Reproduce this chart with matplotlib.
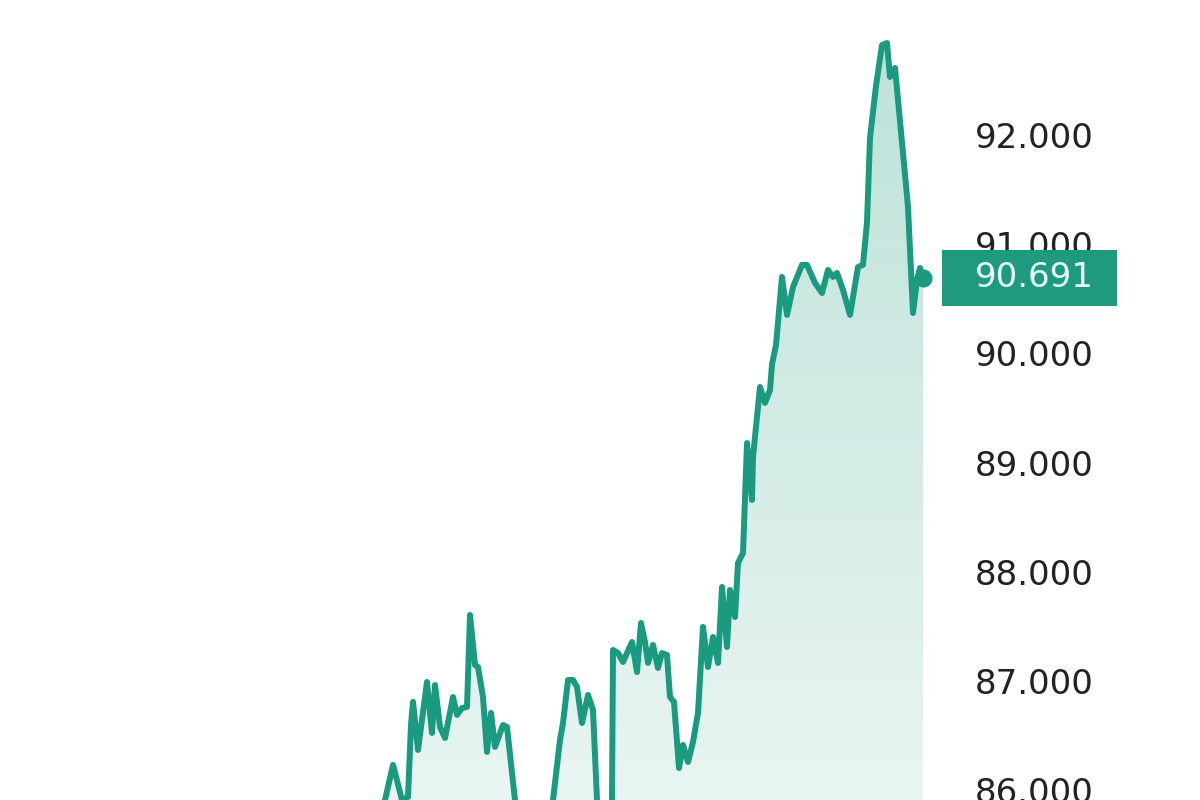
import matplotlib
matplotlib.use("Agg")
import matplotlib.pyplot as plt
import numpy as np
from matplotlib.colors import LinearSegmentedColormap
from matplotlib.patches import Rectangle
from matplotlib.transforms import blended_transform_factory

# price series (time index, value)
t = [375, 385, 393, 402, 408, 411, 413, 418, 427, 432, 435, 440, 445, 453, 457,
     462, 467, 470, 475, 478, 483, 487, 491, 495, 503, 507, 515, 525, 545, 553,
     560, 563, 568, 573, 577, 582, 588, 593, 597, 602, 610, 612, 613, 618, 623,
     632, 637, 641, 645, 648, 653, 658, 662, 667, 670, 674, 679, 683, 688, 693,
     698, 703, 708, 713, 718, 722, 727, 730, 735, 738, 743, 747, 752, 753, 760,
     765, 770, 772, 776, 782, 787, 793, 802, 807, 815, 822, 828, 833, 837, 843,
     850, 858, 863, 867, 870, 876, 882, 887, 890, 895, 903, 908, 913, 917, 920,
     923]
price = [85.70, 85.91, 86.231, 85.91, 85.938, 86.60, 86.808, 86.368, 86.991,
         86.524, 86.963, 86.579, 86.478, 86.853, 86.689, 86.753, 86.762, 87.604,
         87.147, 87.128, 86.853, 86.350, 86.707, 86.396, 86.597, 86.579, 85.91,
         85.50, 85.50, 85.91, 86.460, 86.615, 87.009, 87.009, 86.945, 86.615,
         86.872, 86.734, 85.91, 85.50, 85.50, 85.91, 87.284, 87.256, 87.174,
         87.357, 87.082, 87.531, 87.357, 87.165, 87.330, 87.119, 87.256, 87.238,
         86.853, 86.808, 86.203, 86.414, 86.258, 86.441, 86.707, 87.495, 87.128,
         87.403, 87.165, 87.861, 87.311, 87.833, 87.586, 88.081, 88.172, 89.179,
         88.658, 89.051, 89.692, 89.546, 89.665, 89.90, 90.077, 90.700, 90.352,
         90.608, 90.810, 90.810, 90.645, 90.553, 90.764, 90.700, 90.736, 90.581,
         90.352, 90.791, 90.810, 91.20, 91.973, 92.45, 92.824, 92.842, 92.531,
         92.614, 91.835, 91.341, 90.370, 90.672, 90.782, 90.691]
y_ticks = [86, 87, 88, 89, 90, 91, 92]
last_price = "90.691"

line_color = "#1a9a7e"
y_lo, y_hi = 85.91, 93.236

fig = plt.figure(figsize=(12, 8), dpi=100)
ax = fig.add_axes([0, 0, 930 / 1200, 1])
ax.set_xlim(0, 930)
ax.set_ylim(y_lo, y_hi)

# gradient fill under the line
poly = ax.fill_between(t, price, y_lo - 1, color="none", lw=0)
cmap = LinearSegmentedColormap.from_list("g", ["#e9f5f2", "#bde2d9"])
grad = np.linspace(0, 1, 256).reshape(-1, 1)
im = ax.imshow(grad, cmap=cmap, origin="lower", aspect="auto",
               extent=[t[0], t[-1], y_lo, max(price)], zorder=1)
im.set_clip_path(poly.get_paths()[0], transform=ax.transData)

ax.plot(t, price, color=line_color, lw=4.3, solid_joinstyle="round",
        solid_capstyle="round", zorder=3)
ax.plot(t[-1], price[-1], "o", color=line_color, ms=12, zorder=4, clip_on=False)

for s in ax.spines.values():
    s.set_visible(False)
ax.xaxis.set_visible(False)
ax.yaxis.tick_right()
ax.set_yticks(y_ticks)
ax.set_yticklabels([f"{v:.3f}" for v in y_ticks])
ax.tick_params(axis="y", length=0, pad=32, labelsize=24.5, labelcolor="#222222")

# current price tag
tr = blended_transform_factory(ax.transAxes, ax.transData)
val = float(last_price)
ax.add_patch(Rectangle((942 / 930, val - 0.256), 175 / 930, 0.512, transform=tr,
                       facecolor="#1f9a80", edgecolor="none", clip_on=False, zorder=5))
ax.text(975 / 930, val, last_price, transform=tr, ha="left", va="center",
        fontsize=24.5, color="#e6fff7", zorder=6, clip_on=False)

fig.savefig("out.png", dpi=100, facecolor="white")
